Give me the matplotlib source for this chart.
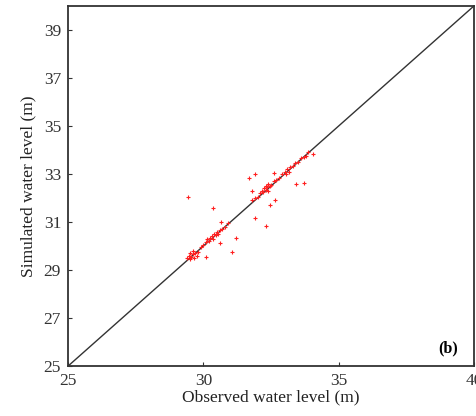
import numpy as np
import matplotlib
matplotlib.use("Agg")
import matplotlib.pyplot as plt

# observed vs simulated water level (m)
obs_low = [29.4, 29.45, 29.5, 29.5, 29.55, 29.6, 29.6, 29.65, 29.7, 29.75, 29.8, 29.9, 30.0, 30.1,
           30.15, 30.2, 30.25, 30.3, 30.35, 30.4, 30.45, 30.5, 30.55, 30.6, 30.7, 30.8, 30.9]
sim_low = [29.5, 29.6, 29.45, 29.7, 29.55, 29.65, 29.8, 29.5, 29.7, 29.6, 29.75, 29.95, 30.05, 30.15,
           30.3, 30.2, 30.35, 30.4, 30.3, 30.5, 30.45, 30.6, 30.5, 30.65, 30.7, 30.8, 30.95]
obs_high = [31.8, 31.9, 32.0, 32.1, 32.15, 32.2, 32.25, 32.3, 32.3, 32.35, 32.4, 32.4, 32.45, 32.5, 32.6,
            32.7, 32.8, 32.9, 33.0, 33.05, 33.1, 33.15, 33.2, 33.3, 33.4, 33.5, 33.6, 33.7, 33.8, 33.85]
sim_high = [31.9, 32.0, 32.05, 32.2, 32.3, 32.25, 32.4, 32.35, 32.5, 32.45, 32.3, 32.6, 32.5, 32.55, 32.7,
            32.75, 32.85, 33.0, 33.1, 33.0, 33.2, 33.1, 33.3, 33.35, 33.45, 33.5, 33.65, 33.7, 33.75, 33.9]
obs_out = [29.43, 30.36, 30.65, 31.2, 31.06, 30.1, 30.6, 31.9, 32.3, 31.9, 31.7, 32.6, 33.7, 33.43,
           32.65, 32.46, 31.8, 34.05]
sim_out = [32.04, 31.58, 31.0, 30.33, 29.75, 29.54, 30.13, 31.17, 30.83, 33.0, 32.83, 33.04, 32.63, 32.58,
           31.92, 31.7, 32.3, 33.83]

obs = obs_low + obs_high + obs_out
sim = sim_low + sim_high + sim_out

plt.rcParams['font.family'] = ['Liberation Serif', 'DejaVu Serif']

fig = plt.figure(figsize=(4.76, 4.16), dpi=100)
ax = fig.add_axes([0.143, 0.12, 0.853, 0.866])

ax.plot([25, 40], [25, 40], color='#333333', linewidth=1.0)
ax.plot(obs, sim, linestyle='', marker='+', markersize=3, markeredgewidth=0.8, color='#ff2020')

ax.set_xlim(25, 40)
ax.set_ylim(25, 40)
ax.set_xticks([25, 30, 35, 40])
ax.set_yticks(np.arange(25, 40, 2))
ax.tick_params(direction='in', length=3, labelsize=12.5, colors='#333333', pad=5)
for s in ax.spines.values():
    s.set_linewidth(1.3)
    s.set_color('#333333')

ax.set_xlabel('Observed water level (m)', fontsize=12.5, labelpad=0, color='#222222')
ax.set_ylabel('Simulated water level (m)', fontsize=12.5, labelpad=5, color='#222222')
ax.text(0.936, 0.05, '(b)', transform=ax.transAxes, fontsize=11.5, fontweight='bold',
        ha='center', va='center')

fig.savefig('out.png', dpi=100)
